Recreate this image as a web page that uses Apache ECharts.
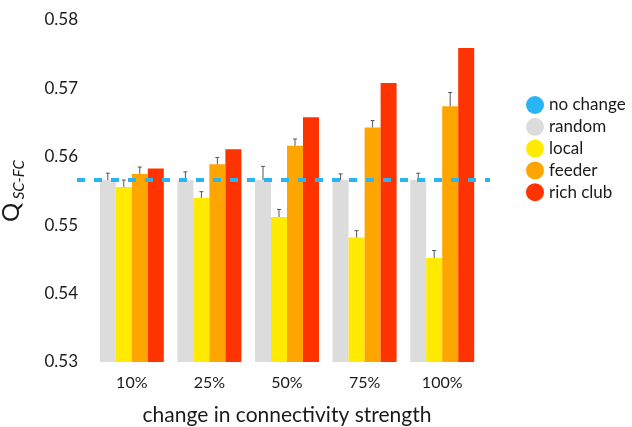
<!DOCTYPE html>
<html>
<head>
<meta charset="utf-8">
<script src="https://cdn.jsdelivr.net/npm/echarts@6/dist/echarts.min.js"></script>
<style>
  html, body { margin: 0; padding: 0; background: #fff; }
  #chart { width: 632px; height: 427px; }
</style>
</head>
<body>
<div id="chart"></div>
<script>
// Modularity agreement Q(SC-FC) per rewiring scheme and strength change
const categories = ['10%', '25%', '50%', '75%', '100%'];
const seriesNames = ['random', 'local', 'feeder', 'rich club'];
const randomVals = [0.5566, 0.5566, 0.5566, 0.5566, 0.5566];
const localVals  = [0.5556, 0.5540, 0.5512, 0.5482, 0.5452];
const feederVals = [0.5575, 0.5589, 0.5616, 0.5643, 0.5674];
const richVals   = [0.5583, 0.5611, 0.5658, 0.5708, 0.5759];
const randomErr = [0.0010, 0.0012, 0.0020, 0.0009, 0.0010];
const localErr  = [0.0010, 0.0009, 0.0011, 0.0010, 0.0011];
const feederErr = [0.0010, 0.0010, 0.0010, 0.0010, 0.0020];
const baseline = 0.5566;
const yTicks = [0.53, 0.54, 0.55, 0.56, 0.57, 0.58];

const colors = {
  'no change': '#29B5F4',
  'random': '#DCDCDC',
  'local': '#FFEA00',
  'feeder': '#FFA500',
  'rich club': '#FF3300'
};

const BAR_W = 16;
const values = [randomVals, localVals, feederVals, richVals];
const errs = [randomErr, localErr, feederErr, null];

// error bar records: [categoryIndex, value, error, seriesIndex]
const errData = [];
errs.forEach((e, s) => {
  if (!e) return;
  e.forEach((v, i) => errData.push([i, values[s][i], v, s]));
});

const font = 'Lato, "Open Sans", sans-serif';
const chart = echarts.init(document.getElementById('chart'));

const barSeries = seriesNames.map((n, s) => ({
  name: n,
  type: 'bar',
  xAxisIndex: 0,
  yAxisIndex: 0,
  barWidth: BAR_W,
  barGap: '0%',
  itemStyle: { color: colors[n] },
  data: values[s],
  z: 2
}));

chart.setOption({
  animation: false,
  backgroundColor: '#fff',
  grid: [
    { left: 93, right: 151, top: 20, bottom: 65, outerBoundsMode: 'none', containLabel: false },
    { left: 77, right: 142, top: 20, bottom: 65, outerBoundsMode: 'none', containLabel: false }
  ],
  legend: {
    orient: 'vertical',
    left: 521,
    top: 91,
    itemWidth: 18,
    itemHeight: 18,
    itemGap: 3.8,
    icon: 'circle',
    data: ['no change'].concat(seriesNames),
    textStyle: { fontFamily: font, fontSize: 17, color: '#1a1a1a' }
  },
  xAxis: [
    {
      type: 'category',
      gridIndex: 0,
      data: categories,
      axisLine: { show: false },
      axisTick: { show: false },
      axisLabel: { fontFamily: font, fontSize: 16, color: '#1a1a1a', margin: 13 },
      name: 'change in connectivity strength',
      nameLocation: 'middle',
      nameGap: 43,
      nameTextStyle: { fontFamily: font, fontSize: 21, color: '#1a1a1a' }
    },
    { type: 'value', gridIndex: 1, min: 0, max: 1, show: false }
  ],
  yAxis: [
    {
      type: 'value',
      gridIndex: 0,
      min: yTicks[0],
      max: yTicks[yTicks.length - 1],
      interval: 0.01,
      axisLine: { show: false },
      axisTick: { show: false },
      splitLine: { show: false },
      axisLabel: {
        fontFamily: font, fontSize: 17, color: '#1a1a1a', margin: 15,
        formatter: v => v.toFixed(2)
      },
      name: '{q|Q}{s| SC-FC}',
      nameLocation: 'middle',
      nameGap: 70,
      nameRotate: 90,
      nameTextStyle: {
        rich: {
          q: { fontFamily: font, fontSize: 24, color: '#1a1a1a' },
          s: { fontFamily: font, fontSize: 15, fontStyle: 'italic', color: '#1a1a1a', verticalAlign: 'bottom', padding: [0, 0, -4, 0] }
        }
      }
    },
    { type: 'value', gridIndex: 1, min: yTicks[0], max: yTicks[yTicks.length - 1], show: false }
  ],
  series: barSeries.concat([
    {
      name: 'error',
      type: 'custom',
      xAxisIndex: 0,
      yAxisIndex: 0,
      z: 3,
      data: errData,
      renderItem: function (params, api) {
        const cat = api.value(0);
        const val = api.value(1);
        const err = api.value(2);
        const s = api.value(3);
        const center = api.coord([cat, val]);
        const offset = (s - (seriesNames.length - 1) / 2) * BAR_W;
        const x = center[0] + offset;
        const yTop = api.coord([cat, val + err])[1];
        const yBot = center[1];
        const style = { stroke: '#555', lineWidth: 1, fill: null };
        return {
          type: 'group',
          children: [
            { type: 'line', shape: { x1: x, y1: yBot, x2: x, y2: yTop }, style: style },
            { type: 'line', shape: { x1: x - 2, y1: yTop, x2: x + 2, y2: yTop }, style: style }
          ]
        };
      }
    },
    {
      name: 'no change',
      type: 'line',
      xAxisIndex: 1,
      yAxisIndex: 1,
      z: 5,
      symbol: 'none',
      itemStyle: { color: colors['no change'] },
      lineStyle: { color: colors['no change'], width: 4, type: [8, 9], cap: 'butt' },
      data: [[0, baseline], [1, baseline]]
    }
  ])
});
</script>
</body>
</html>
